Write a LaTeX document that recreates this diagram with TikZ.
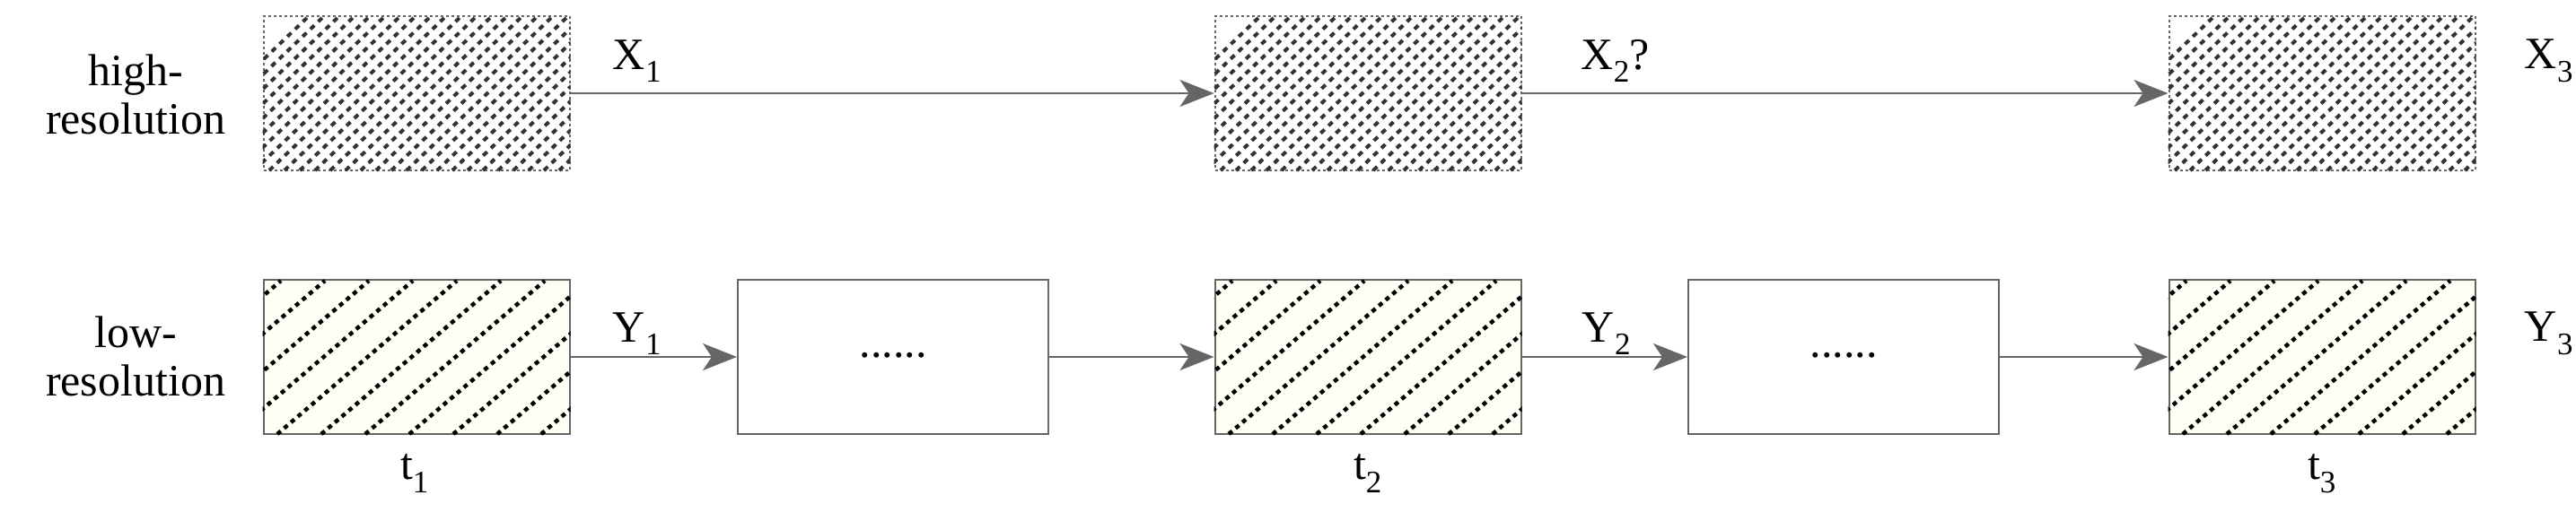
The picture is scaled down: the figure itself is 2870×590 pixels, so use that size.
\documentclass[tikz,border=0pt]{standalone}
\usepackage{fontspec}
\setmainfont{Liberation Serif}
\usetikzlibrary{arrows.meta}
\begin{document}
\begin{tikzpicture}[x=1pt,y=-1pt,
  hbox/.style={draw=gray!80!black,dashed,line width=2pt,minimum width=341pt,minimum height=172pt,inner sep=0pt},
  lbox/.style={draw=gray!80!black,line width=2pt,fill=green!6!yellow!4!white,minimum width=341pt,minimum height=172pt,inner sep=0pt},
  ebox/.style={draw=gray!80!black,line width=2pt,minimum width=346pt,minimum height=172pt,inner sep=0pt},
  conn/.style={draw=gray!80!black,line width=2pt,-{Stealth[length=38pt,width=30pt,inset=10pt]}},
  lab/.style={font=\fontsize{50}{54}\selectfont,inner sep=0pt}]
\useasboundingbox (0,0) rectangle (2870,590);
\node[lab,align=center] (hr) at (151,105) {high-\\resolution};
\node[lab,align=center] (lr) at (151,397) {low-\\resolution};
\foreach \n/\x in {h1/464,h2/1524,h3/2587}{
  \node[hbox] (\n) at (\x,104) {};
  \begin{scope}
    \clip (\n.north west) rectangle (\n.south east);
    \foreach \i in {-200,-183,...,400}
      \draw[black!80,line width=4pt,dash pattern=on 6pt off 6pt] (\x+\i-100,190) -- (\x+\i+80,18);
  \end{scope}
}
\foreach \n/\x in {l1/464,l2/1524,l3/2587}{
  \node[lbox] (\n) at (\x,398) {};
  \begin{scope}
    \clip (\n.north west) rectangle (\n.south east);
    \foreach \i in {-300,-251,...,400}
      \draw[black,line width=4.5pt,dash pattern=on 5pt off 5pt] (\x+\i-100,484) -- (\x+\i+100,313);
  \end{scope}
}
\node[ebox,font=\fontsize{50}{54}\selectfont] (e1) at (995,398) {\raisebox{4pt}{......}};
\node[ebox,font=\fontsize{50}{54}\selectfont] (e2) at (2054,398) {\raisebox{4pt}{......}};
\draw[conn] (h1.east) -- (h2.west);
\draw[conn] (h2.east) -- (h3.west);
\draw[conn] (l1.east) -- (e1.west);
\draw[conn] (e1.east) -- (l2.west);
\draw[conn] (l2.east) -- (e2.west);
\draw[conn] (e2.east) -- (l3.west);
\node[lab] (x1) at (710,68) {X\textsubscript{1}};
\node[lab] (x2) at (1800,68) {X\textsubscript{2}?};
\node[lab] (x3) at (2840,68) {X\textsubscript{3}};
\node[lab] (y1) at (710,372) {Y\textsubscript{1}};
\node[lab] (y2) at (1790,372) {Y\textsubscript{2}};
\node[lab] (y3) at (2840,372) {Y\textsubscript{3}};
\node[lab] (t1) at (462,528) {t\textsubscript{1}};
\node[lab] (t2) at (1524,528) {t\textsubscript{2}};
\node[lab] (t3) at (2587,528) {t\textsubscript{3}};
\end{tikzpicture}
\end{document}
